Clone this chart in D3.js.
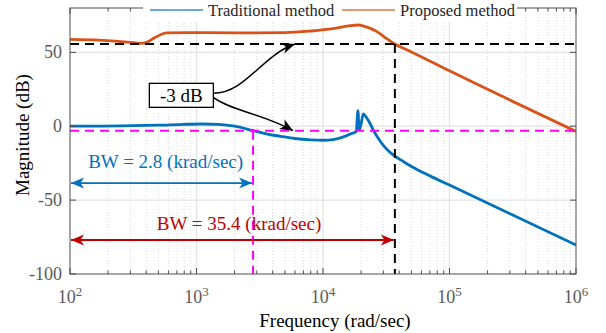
<!DOCTYPE html>
<html>
<head>
<meta charset="utf-8">
<script src="https://cdn.jsdelivr.net/npm/d3@7"></script>
<style>
  body { margin: 0; background: #fff; }
  svg { display: block; font-family: 'Liberation Serif', 'Times New Roman', serif; }
</style>
</head>
<body>
<svg id="chart"></svg>
<script>
// values
const seriesNames = ['Traditional method', 'Proposed method'];
const tradFreq = [100, 250, 500, 800, 1100, 1500, 2000, 2800, 3700, 4600, 6000, 8000, 10000, 12000, 14500, 16500, 18300, 18900, 19300, 20000, 20800, 22000, 23500, 25000, 27500, 30000, 33000, 37000, 43000, 50000, 70000, 100000, 1000000];
const tradMag = [0, 0.2, 0.7, 1.3, 1.5, 1.2, 0, -3, -5.5, -6.8, -8.3, -9.2, -9.5, -9, -7.2, -5.3, -3.5, 10.5, -2.6, 1.5, 8.3, 6, 2, -2.6, -8.5, -13, -16.8, -20.3, -23.8, -27.2, -33.6, -39.8, -80.4];
const propFreq = [100, 170, 300, 360, 400, 470, 580, 840, 2000, 5000, 8000, 12000, 16000, 19000, 22000, 26700, 31000, 37000, 50000, 100000, 1000000];
const propMag = [58.8, 58.3, 56.8, 56.1, 56.6, 60, 63.2, 63.4, 63.1, 63.3, 64.4, 66, 67.9, 68.5, 67.2, 64, 60, 55.6, 50.3, 37.5, -3.5];

const xTicks = [1e2, 1e3, 1e4, 1e5, 1e6];
const xTickExp = ['2', '3', '4', '5', '6'];
const yTicks = [-100, -50, 0, 50];

const refLevels = [55.6, -3];          // -3 dB levels: proposed, traditional
const bwFreqs = [37000, 2800];         // bandwidth crossings: proposed, traditional
const bwLabels = ['BW = 35.4 (krad/sec)', 'BW = 2.8 (krad/sec)'];
const bwArrowMag = [-77, -38.5];
const bwLabelFreq = [2170, 570];
const bwLabelMag = [-70.2, -28.3];

const noteText = '-3 dB';
const notePos = [759, 20.9];
const noteTips = [[6010, 55.6], [5800, -3]];

const width = 606, height = 333;
const margin = { top: 8, right: 30, bottom: 59, left: 70 };
const colors = { trad: '#0072bd', prop: '#d95319', bwTrad: '#0072bd', bwProp: '#c00000' };

const svg = d3.select('#chart')
  .attr('width', width)
  .attr('height', height);

const x = d3.scaleLog().domain([1e2, 1e6]).range([margin.left, width - margin.right]);
const y = d3.scaleLinear().domain([-100, 80]).range([height - margin.bottom, margin.top]);
const x0 = x.range()[0], x1 = x.range()[1], yb = y.range()[0], yt = y.range()[1];

const minor = x.ticks().filter(t => !xTicks.includes(t));

// arrowheads
const defs = svg.append('defs');
const addMarker = (id, color) => {
  defs.append('marker')
    .attr('id', id)
    .attr('viewBox', '-14 -7 16 14')
    .attr('refX', 0).attr('refY', 0)
    .attr('markerWidth', 16).attr('markerHeight', 14)
    .attr('markerUnits', 'userSpaceOnUse')
    .attr('orient', 'auto-start-reverse')
    .append('path')
    .attr('d', 'M0,0 L-13,-5.5 L-9.5,0 L-13,5.5 Z')
    .attr('fill', color);
};
addMarker('arrBlue', colors.bwTrad);
addMarker('arrRed', colors.bwProp);
addMarker('arrBlack', '#000');

defs.append('clipPath').attr('id', 'plotClip')
  .append('rect')
  .attr('x', x0).attr('y', yt).attr('width', x1 - x0).attr('height', yb - yt);

// grid
const grid = svg.append('g');
grid.selectAll('.minor').data(minor).join('line')
  .attr('x1', d => x(d)).attr('x2', d => x(d))
  .attr('y1', yt).attr('y2', yb)
  .attr('stroke', '#dcdcdc').attr('stroke-dasharray', '1,2');
grid.selectAll('.vmaj').data(xTicks.slice(1, -1)).join('line')
  .attr('x1', d => x(d)).attr('x2', d => x(d))
  .attr('y1', yt).attr('y2', yb)
  .attr('stroke', '#e3e3e3').attr('stroke-width', 1.3);
grid.selectAll('.hmaj').data(yTicks.slice(1)).join('line')
  .attr('x1', x0).attr('x2', x1)
  .attr('y1', d => y(d)).attr('y2', d => y(d))
  .attr('stroke', '#e3e3e3').attr('stroke-width', 1.3);

// curves
const line = d3.line()
  .x(d => x(d[0]))
  .y(d => y(d[1]))
  .curve(d3.curveMonotoneX);

const plot = svg.append('g').attr('clip-path', 'url(#plotClip)');
plot.append('path')
  .datum(tradFreq.map((f, i) => [f, tradMag[i]]))
  .attr('d', line)
  .attr('fill', 'none')
  .attr('stroke', colors.trad)
  .attr('stroke-width', 2.8)
  .attr('stroke-linejoin', 'round');
plot.append('path')
  .datum(propFreq.map((f, i) => [f, propMag[i]]))
  .attr('d', line)
  .attr('fill', 'none')
  .attr('stroke', colors.prop)
  .attr('stroke-width', 2.8)
  .attr('stroke-linejoin', 'round');

// -3 dB guide lines
const dashColors = ['#000', '#ff00ff'];
refLevels.forEach((lvl, i) => {
  plot.append('line')
    .attr('x1', x0).attr('x2', x1)
    .attr('y1', y(lvl)).attr('y2', y(lvl))
    .attr('stroke', dashColors[i]).attr('stroke-width', 2)
    .attr('stroke-dasharray', '9,6');
  plot.append('line')
    .attr('x1', x(bwFreqs[i])).attr('x2', x(bwFreqs[i]))
    .attr('y1', y(lvl)).attr('y2', yb)
    .attr('stroke', dashColors[i]).attr('stroke-width', 2)
    .attr('stroke-dasharray', '9,6');
});

// bandwidth arrows
const bwColors = [colors.bwProp, colors.bwTrad];
const bwMarkers = ['arrRed', 'arrBlue'];
bwFreqs.forEach((f, i) => {
  svg.append('line')
    .attr('x1', x0 + 1).attr('x2', x(f) - 1)
    .attr('y1', y(bwArrowMag[i])).attr('y2', y(bwArrowMag[i]))
    .attr('stroke', bwColors[i]).attr('stroke-width', 1.8)
    .attr('marker-start', `url(#${bwMarkers[i]})`)
    .attr('marker-end', `url(#${bwMarkers[i]})`);
  svg.append('text')
    .attr('x', x(bwLabelFreq[i]))
    .attr('y', y(bwLabelMag[i]))
    .attr('text-anchor', 'middle')
    .attr('font-size', 19)
    .attr('fill', bwColors[i])
    .text(bwLabels[i]);
});

// "-3 dB" note with curved arrows
const nx = x(notePos[0]), ny = y(notePos[1]);
const boxW = 64, boxH = 24;
const bx1 = nx + boxW / 2;
const tipA = [x(noteTips[0][0]), y(noteTips[0][1])];
const tipB = [x(noteTips[1][0]), y(noteTips[1][1])];
const pA = d3.path();
pA.moveTo(bx1, ny - 2);
pA.bezierCurveTo(bx1 + 32, ny - 2, tipA[0] - 33, tipA[1] + 11, tipA[0], tipA[1]);
const pB = d3.path();
pB.moveTo(bx1, ny + 2);
pB.bezierCurveTo(bx1 + 17, ny + 15, tipB[0] - 28, tipB[1] - 16, tipB[0], tipB[1]);
[pA, pB].forEach(p => {
  svg.append('path')
    .attr('d', p.toString())
    .attr('fill', 'none')
    .attr('stroke', '#000')
    .attr('stroke-width', 1.5)
    .attr('marker-end', 'url(#arrBlack)');
});
svg.append('rect')
  .attr('x', nx - boxW / 2).attr('y', ny - boxH / 2)
  .attr('width', boxW).attr('height', boxH)
  .attr('fill', '#fff').attr('stroke', '#000').attr('stroke-width', 1.3);
svg.append('text')
  .attr('x', nx).attr('y', ny).attr('dy', '0.33em')
  .attr('text-anchor', 'middle')
  .attr('font-size', 19)
  .text(noteText);

// axes box and ticks
const ax = svg.append('g').attr('stroke', '#4d4d4d');
ax.append('rect')
  .attr('x', x0).attr('y', yt).attr('width', x1 - x0).attr('height', yb - yt)
  .attr('fill', 'none').attr('stroke-width', 1);
[[yb, -1], [yt, 1]].forEach(([yy, dir]) => {
  ax.selectAll(null).data(xTicks).join('line')
    .attr('x1', d => x(d)).attr('x2', d => x(d))
    .attr('y1', yy).attr('y2', yy + dir * 6);
  ax.selectAll(null).data(minor).join('line')
    .attr('x1', d => x(d)).attr('x2', d => x(d))
    .attr('y1', yy).attr('y2', yy + dir * 3.5);
});
[[x0, 1], [x1, -1]].forEach(([xx, dir]) => {
  ax.selectAll(null).data(yTicks).join('line')
    .attr('x1', xx).attr('x2', xx + dir * 6)
    .attr('y1', d => y(d)).attr('y2', d => y(d));
});

// tick labels
const xl = svg.append('g')
  .attr('fill', '#5a5a5a')
  .attr('text-anchor', 'middle');
xTicks.forEach((t, i) => {
  const tx = xl.append('text')
    .attr('x', x(t)).attr('y', yb + 29)
    .attr('font-size', 18);
  tx.append('tspan').text('10');
  tx.append('tspan').attr('dy', -7).attr('font-size', 13).text(xTickExp[i]);
});
svg.append('g')
  .selectAll('text').data(yTicks).join('text')
  .attr('x', x0 - 8).attr('y', d => y(d)).attr('dy', '0.34em')
  .attr('text-anchor', 'end')
  .attr('font-size', 18)
  .attr('fill', '#5a5a5a')
  .text(d => d);

// axis titles
svg.append('text')
  .attr('x', 335).attr('y', yb + 53)
  .attr('text-anchor', 'middle')
  .attr('font-size', 19)
  .text('Frequency (rad/sec)');
svg.append('text')
  .attr('transform', `translate(29,${135}) rotate(-90)`)
  .attr('text-anchor', 'middle')
  .attr('font-size', 19)
  .text('Magnitude (dB)');

// legend over the top edge
const lg = svg.append('g');
lg.append('rect')
  .attr('x', 143).attr('y', 0).attr('width', 374).attr('height', 21.5)
  .attr('fill', '#fff');
const legendX = [150, 342];
seriesNames.forEach((name, i) => {
  lg.append('line')
    .attr('x1', legendX[i]).attr('x2', legendX[i] + 53)
    .attr('y1', 10).attr('y2', 10)
    .attr('stroke', i === 0 ? colors.trad : colors.prop)
    .attr('stroke-width', 1.5)
    .attr('stroke-opacity', 0.8);
  lg.append('text')
    .attr('x', legendX[i] + 58).attr('y', 16)
    .attr('font-size', 16.5)
    .attr('fill', '#262626')
    .text(name);
});
</script>
</body>
</html>
